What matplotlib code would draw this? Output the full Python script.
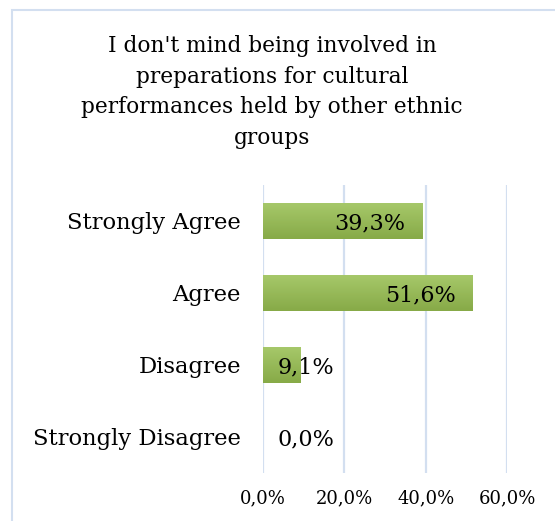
import matplotlib.pyplot as plt
from matplotlib.patches import Rectangle
import numpy as np

categories = ["Strongly Agree", "Agree", "Disagree", "Strongly Disagree"]
values = [39.3, 51.6, 9.1, 0.0]
ticks = [0, 20, 40, 60]
tick_labels = ["0,0%", "20,0%", "40,0%", "60,0%"]
title = "I don't mind being involved in\npreparations for cultural\nperformances held by other ethnic\ngroups"

plt.rcParams['font.family'] = ['DejaVu Serif']

fig = plt.figure(figsize=(5.55, 5.21), dpi=100)
W, H = 555, 521

# outer chart frame (only left and top edges visible)
fig.patches.append(Rectangle((12 / W, -0.1), 1.2, (H - 10) / H + 0.1,
                             transform=fig.transFigure, fill=False,
                             edgecolor='#d3dff0', linewidth=1.5))

ax = fig.add_axes([263 / W, (H - 473) / H, (507 - 263) / W, (473 - 185) / H])
y = np.arange(len(categories))

# gradient green bars
bars = ax.barh(y, values, height=0.5, color='#9bbf5a', zorder=2)
grad = np.linspace(0, 1, 64).reshape(-1, 1)
cmap = plt.matplotlib.colors.LinearSegmentedColormap.from_list('g', ['#a6c86a', '#87aa47'])
for b in bars:
    if b.get_width() <= 0:
        continue
    x0, y0 = b.get_x(), b.get_y()
    img = ax.imshow(grad, extent=[x0, x0 + b.get_width(), y0 + b.get_height(), y0],
                    cmap=cmap, aspect='auto', zorder=3)
    img.set_clip_path(b)

ax.set_xlim(0, 60)
ax.set_ylim(len(categories) - 0.5, -0.5)
ax.set_aspect('auto')
ax.set_xticks(ticks)
ax.set_xticklabels(tick_labels, fontsize=13)
ax.set_yticks(y)
ax.set_yticklabels(categories, fontsize=16.3)
ax.tick_params(axis='both', length=0)
ax.tick_params(axis='x', pad=12)
ax.tick_params(axis='y', pad=16)
ax.grid(axis='x', color='#d3dff0', linewidth=1.6, zorder=0)
for s in ax.spines.values():
    s.set_visible(False)

for yi, v in zip(y, values):
    xr = max(v - 4.2, 17.6)
    ax.text(xr, yi + 0.03, f"{v:.1f}%".replace('.', ','), ha='right', va='center',
            fontsize=16, zorder=4)

fig.text(272 / W, (H - 92) / H, title, ha='center', va='center', fontsize=15.6,
         linespacing=1.52)

fig.savefig('out.png', dpi=100)
